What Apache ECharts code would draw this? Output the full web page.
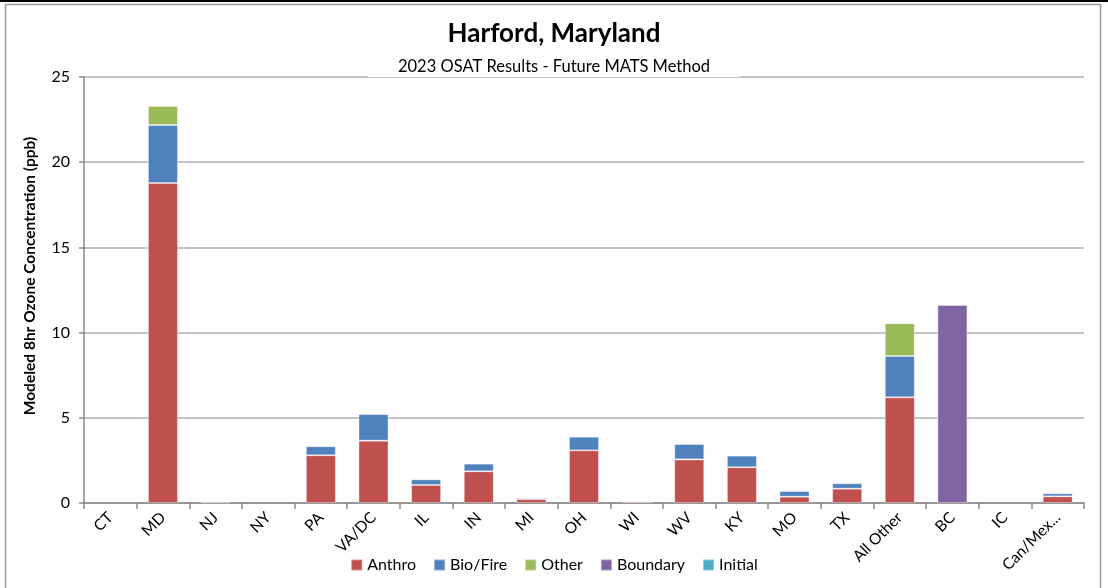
<!DOCTYPE html>
<html>
<head>
<meta charset="utf-8">
<script src="https://cdn.jsdelivr.net/npm/echarts@6/dist/echarts.min.js"></script>
<style>
html,body{margin:0;padding:0;background:#fff;}
#chart{width:1108px;height:588px;}
</style>
</head>
<body>
<div id="chart"></div>
<script>
const categories = ['CT','MD','NJ','NY','PA','VA/DC','IL','IN','MI','OH','WI','WV','KY','MO','TX','All Other','BC','IC','Can/Mex...'];
const anthro   = [0, 18.78, 0.04, 0, 2.80, 3.66, 1.06, 1.86, 0.23, 3.09, 0.08, 2.56, 2.10, 0.37, 0.84, 6.20, 0, 0, 0.39];
const bioFire  = [0, 3.40, 0, 0, 0.53, 1.56, 0.33, 0.45, 0.08, 0.80, 0.02, 0.90, 0.68, 0.33, 0.32, 2.43, 0, 0, 0.18];
const other    = [0, 1.12, 0, 0, 0, 0, 0, 0, 0, 0, 0, 0, 0, 0, 0, 1.92, 0, 0, 0];
const boundary = [0, 0, 0, 0, 0, 0, 0, 0, 0, 0, 0, 0, 0, 0, 0, 0, 11.62, 0, 0];
const initial  = [0, 0, 0, 0, 0, 0, 0, 0, 0, 0, 0, 0, 0, 0, 0, 0, 0, 0, 0];
const yTicks = [0, 5, 10, 15, 20, 25];

const FONT = 'Lato';
const chart = echarts.init(document.getElementById('chart'), null, {renderer: 'canvas'});
function bar(name, data, color) {
  return {
    name: name, type: 'bar', stack: 'total',
    data: data.map(v => v === 0 ? '-' : v), barWidth: 30,
    itemStyle: {color: color, borderColor: 'rgba(255,255,255,0.35)', borderWidth: 1},
    emphasis: {disabled: true}
  };
}
chart.setOption({
  animation: false,
  textStyle: {fontFamily: FONT},
  graphic: [
    {type: 'rect', shape: {x: 0, y: 0, width: 1108, height: 2}, style: {fill: '#000'}, z: 100},
    {type: 'rect', shape: {x: 5.5, y: 4.5, width: 1095, height: 600}, style: {fill: 'none', stroke: '#9a9a9a', lineWidth: 1.5}, z: 100}
  ],
  title: [
    {text: 'Harford, Maryland', left: 'center', top: 16,
     textStyle: {fontFamily: FONT, fontSize: 26, fontWeight: 'bold', color: '#000'}},
    {text: '2023 OSAT Results - Future MATS Method', left: 'center', top: 56,
     backgroundColor: '#fff', padding: [2, 30, 2, 30],
     textStyle: {fontFamily: FONT, fontSize: 16.5, fontWeight: 'normal', color: '#000'}}
  ],
  legend: {
    bottom: 10, left: 'center', itemWidth: 11, itemHeight: 11, itemGap: 17,
    icon: 'rect',
    textStyle: {fontFamily: FONT, fontSize: 16, color: '#000'},
    data: ['Anthro','Bio/Fire','Other','Boundary','Initial']
  },
  grid: {left: 84, right: 24, top: 77, bottom: 85},
  xAxis: {
    type: 'category', data: categories,
    axisLine: {lineStyle: {color: '#888', width: 1.5}},
    axisTick: {show: true, alignWithLabel: false, length: 6, lineStyle: {color: '#888', width: 1.5}},
    axisLabel: {rotate: 45, interval: 0, fontFamily: FONT, fontSize: 15.5, color: '#000', margin: 12}
  },
  yAxis: {
    type: 'value', min: 0, max: 25, interval: 5,
    name: 'Modeled 8hr Ozone Concentration (ppb)', nameLocation: 'middle', nameGap: 46,
    nameTextStyle: {fontFamily: FONT, fontSize: 15.5, fontWeight: 'bold', color: '#000', padding: [0, 0, 0, 28]},
    axisLine: {show: true, lineStyle: {color: '#888', width: 1.5}},
    axisTick: {show: true, length: 5, lineStyle: {color: '#888', width: 1.5}},
    axisLabel: {fontFamily: FONT, fontSize: 16, color: '#000', margin: 14,
      formatter: v => yTicks.includes(v) ? String(v) : ''},
    splitLine: {lineStyle: {color: '#b0b0b0', width: 1.5}}
  },
  series: [
    bar('Anthro', anthro, '#C0504D'),
    bar('Bio/Fire', bioFire, '#4F81BD'),
    bar('Other', other, '#9BBB59'),
    bar('Boundary', boundary, '#8064A2'),
    bar('Initial', initial, '#4BACC6')
  ]
});
</script>
</body>
</html>
